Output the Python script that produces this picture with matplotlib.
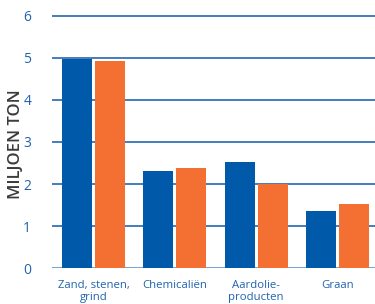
import matplotlib
matplotlib.use("Agg")
import matplotlib.pyplot as plt
import numpy as np

categories = ["Zand, stenen,\ngrind", "Chemicaliën", "Aardolie-\nproducten", "Graan"]
series_blue = [4.97, 2.31, 2.52, 1.36]
series_orange = [4.94, 2.38, 1.99, 1.52]
yticks = [0, 1, 2, 3, 4, 5, 6]
ylabel = "MILJOEN TON"

BLUE = "#0059a9"
ORANGE = "#f37032"
TICK = "#1f63ae"
GRID = "#3573b6"

plt.rcParams['font.family'] = ['Open Sans', 'DejaVu Sans']

fig = plt.figure(figsize=(3.75, 3.04), dpi=100)
top_val = 6.05
px_per_unit = 42.0
top_px = 268 - (top_val) * px_per_unit
ax = fig.add_axes([52/375, (304-268)/304, 1 - 52/375, (268 - top_px)/304])

x = np.arange(len(categories))
w = 0.37
off = 0.203
ax.bar(x - off, series_blue, width=w, color=BLUE, zorder=3)
ax.bar(x + off, series_orange, width=w, color=ORANGE, zorder=3)

for t in yticks:
    c = GRID if t != 0 else "#7aa6d3"
    ax.axhline(t, color=c, lw=1.3 if t else 2.2, zorder=1)

ax.set_xlim(-0.51, 3.46)
ax.set_ylim(0, top_val)
ax.set_yticks(yticks)
ax.set_yticklabels([str(t) for t in yticks], color=TICK, fontsize=10)
ax.tick_params(axis='y', length=0, pad=15)
ax.set_xticks(x)
ax.set_xticklabels(categories, color=TICK, fontsize=8.2, linespacing=1.2)
ax.tick_params(axis='x', length=0, pad=8.5)
for s in ax.spines.values():
    s.set_visible(False)

fig.text(16/375, 1 - 144/304, ylabel, rotation=90, ha='center', va='center',
         fontsize=12, fontweight='semibold', color="#3b3b3b")

fig.savefig("out.png", dpi=100)
